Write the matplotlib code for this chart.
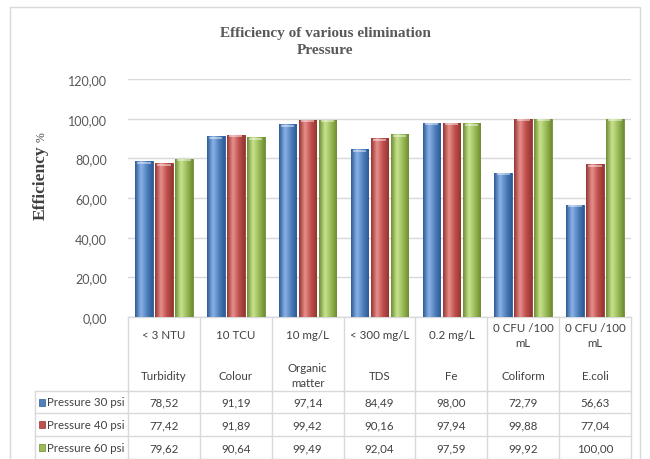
import numpy as np
import matplotlib
matplotlib.use("Agg")
import matplotlib.pyplot as plt
from matplotlib.patches import Rectangle
from matplotlib.colors import LinearSegmentedColormap
import matplotlib.transforms as mtransforms

# ---------------- data ----------------
standards = ["< 3 NTU", "10 TCU", "10 mg/L", "< 300 mg/L", "0.2 mg/L", "0 CFU /100\nmL", "0 CFU /100\nmL"]
parameters = ["Turbidity", "Colour", "Organic\nmatter", "TDS", "Fe", "Coliform", "E.coli"]
series_names = ["Pressure 30 psi", "Pressure 40 psi", "Pressure 60 psi"]
p30 = [78.52, 91.19, 97.14, 84.49, 98.00, 72.79, 56.63]
p40 = [77.42, 91.89, 99.42, 90.16, 97.94, 99.88, 77.04]
p60 = [79.62, 90.64, 99.49, 92.04, 97.59, 99.92, 100.00]
yticks = [0, 20, 40, 60, 80, 100, 120]
title = "Efficiency of various elimination\nPressure"
ylabel_main = "Efficiency"
ylabel_unit = "%"

series = [p30, p40, p60]
base_colors = ["#4F81BD", "#C0504D", "#9BBB59"]
dark_colors = ["#2C5A96", "#943532", "#6E8C32"]
light_colors = ["#8DB3E8", "#E8908D", "#C9E38F"]

plt.rcParams['font.family'] = ['Lato', 'DejaVu Sans']

W, H = 650, 460
fig = plt.figure(figsize=(6.5, 4.6), dpi=100)
fig.patch.set_facecolor("white")

# outer chart frame
fig.patches.append(Rectangle((10 / W, -0.05), 630 / W, 1 - 8 / H + 0.05,
                             transform=fig.transFigure, fill=False,
                             edgecolor="#D9D9D9", linewidth=1.0))

ax_left, ax_right = 128 / W, 631 / W
ax_top, ax_bot = 1 - 80 / H, 1 - 318 / H
ax = fig.add_axes([ax_left, ax_bot, ax_right - ax_left, ax_top - ax_bot])

n = len(parameters)
x = np.arange(n)
bw = 0.245
step = 0.278

for i, vals in enumerate(series):
    cmap = LinearSegmentedColormap.from_list(
        "g%d" % i, [dark_colors[i], light_colors[i], base_colors[i], dark_colors[i]])
    bars = ax.bar(x + (i - 1) * step, vals, width=bw, color=base_colors[i],
                  edgecolor=dark_colors[i], linewidth=0.6, zorder=3)
    grad = np.linspace(0, 1, 64).reshape(1, -1)
    for b in bars:
        x0, y0 = b.get_x(), b.get_y()
        w, h = b.get_width(), b.get_height()
        im = ax.imshow(grad, cmap=cmap, extent=(x0, x0 + w, y0, y0 + h),
                       aspect="auto", zorder=3.5, interpolation="bicubic")
        im.set_clip_path(b)
        ax.add_patch(Rectangle((x0 + w * 0.12, y0 + h - 1.2), w * 0.76, 1.0,
                               facecolor="white", alpha=0.45, edgecolor="none",
                               zorder=4))

ax.set_xlim(-0.5, n - 0.5)
ax.set_ylim(0, 120)
ax.set_yticks(yticks)
ax.set_yticklabels([("%.2f" % v).replace(".", ",") for v in yticks],
                   color="#595959", fontsize=9)
ax.tick_params(axis="y", length=0, pad=15)
ax.set_xticks([])
ax.yaxis.grid(True, color="#D9D9D9", linewidth=1.0, zorder=0)
ax.set_axisbelow(True)
for s in ax.spines.values():
    s.set_visible(False)

# title
fig.text(0.5, 1 - 42 / H, title, ha="center", va="center", fontsize=11,
         fontweight="bold", color="#595959", family=["Liberation Serif"],
         linespacing=1.35)

# y label
fig.text(41 / W, 1 - 183 / H, ylabel_main, rotation=90, ha="center", va="center",
         fontsize=12.5, fontweight="bold", color="#404040", family=["Liberation Serif"])
fig.text(42 / W, 1 - 137 / H, ylabel_unit, rotation=90, ha="center", va="center",
         fontsize=8.5, color="#404040", family=["Liberation Serif"])

# ---------------- data table ----------------
trans = mtransforms.blended_transform_factory(ax.transData, fig.transFigure)
def fy(py):
    return 1 - py / H

line_kw = dict(color="#D9D9D9", linewidth=1.0, clip_on=False)
header_top = 318
row_edges = [392, 414, 437, 460]
left_x = -0.5 - (128 - 35) / 72.0

ax.plot([-0.5, n - 0.5], [fy(header_top)] * 2, transform=trans, **line_kw)
for ry in row_edges:
    ax.plot([left_x, n - 0.5], [fy(ry)] * 2, transform=trans, **line_kw)
for k in range(n + 1):
    ax.plot([k - 0.5, k - 0.5], [fy(header_top), fy(row_edges[-1])],
            transform=trans, **line_kw)
ax.plot([left_x, left_x], [fy(row_edges[0]), fy(row_edges[-1])],
        transform=trans, **line_kw)

txt_color = "#404040"
fs = 8.3
for k in range(n):
    ax.text(x[k], fy(336), standards[k], transform=trans, ha="center", va="center",
            fontsize=fs, color=txt_color, linespacing=1.45)
    ax.text(x[k], fy(376), parameters[k], transform=trans, ha="center", va="center",
            fontsize=fs, color=txt_color, linespacing=1.45)

for r, vals in enumerate(series):
    yc = fy((row_edges[r] + row_edges[r + 1]) / 2)
    for k in range(n):
        ax.text(x[k], yc, ("%.2f" % vals[k]).replace(".", ","), transform=trans,
                ha="center", va="center", fontsize=fs, color=txt_color)
    kx = left_x + 4 / 72.0
    ax.add_patch(Rectangle((kx, yc - 3.5 / H), 6 / 72.0, 7 / H, transform=trans,
                           facecolor=base_colors[r], edgecolor=dark_colors[r],
                           linewidth=0.5, clip_on=False))
    ax.text(kx + 8 / 72.0, yc, series_names[r], transform=trans, ha="left",
            va="center", fontsize=fs, color=txt_color)

fig.savefig("out.png", dpi=100, facecolor="white")
